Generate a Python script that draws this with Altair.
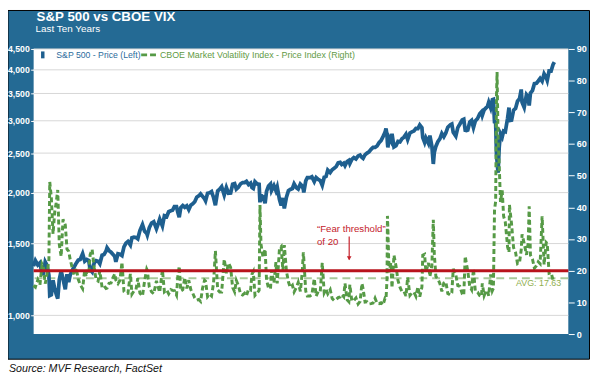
import altair as alt
import numpy as np
import pandas as pd

# ---------------- data ----------------
dates = [
    "2011-04-15", "2011-04-29", "2011-05-16", "2011-05-31", "2011-06-15", "2011-06-24", "2011-07-07", "2011-07-20",
    "2011-08-02", "2011-08-08", "2011-08-19", "2011-08-31", "2011-09-12", "2011-09-22", "2011-10-03", "2011-10-14",
    "2011-10-27", "2011-11-09", "2011-11-25", "2011-12-07", "2011-12-19", "2011-12-30",
    "2012-01-13", "2012-01-27", "2012-02-10", "2012-02-24", "2012-03-09", "2012-03-26", "2012-04-10", "2012-04-24",
    "2012-05-08", "2012-05-18", "2012-06-01", "2012-06-15", "2012-06-29", "2012-07-13", "2012-07-25", "2012-08-10",
    "2012-08-24", "2012-09-07", "2012-09-14", "2012-09-28", "2012-10-12", "2012-10-26", "2012-11-07", "2012-11-15",
    "2012-11-30", "2012-12-14", "2012-12-28",
    "2013-01-11", "2013-01-25", "2013-02-08", "2013-02-25", "2013-03-08", "2013-03-22", "2013-04-05", "2013-04-18",
    "2013-05-03", "2013-05-21", "2013-06-05", "2013-06-20", "2013-06-24", "2013-07-08", "2013-07-24", "2013-08-08",
    "2013-08-27", "2013-09-10", "2013-09-19", "2013-10-08", "2013-10-22", "2013-11-07", "2013-11-21", "2013-12-06",
    "2013-12-18", "2013-12-31",
    "2014-01-15", "2014-01-24", "2014-02-03", "2014-02-14", "2014-02-28", "2014-03-14", "2014-03-28", "2014-04-11",
    "2014-04-25", "2014-05-09", "2014-05-23", "2014-06-06", "2014-06-20", "2014-07-03", "2014-07-17", "2014-07-31",
    "2014-08-07", "2014-08-21", "2014-09-04", "2014-09-18", "2014-10-02", "2014-10-15", "2014-10-31", "2014-11-14",
    "2014-11-28", "2014-12-16", "2014-12-31",
    "2015-01-15", "2015-01-30", "2015-02-13", "2015-02-27", "2015-03-11", "2015-03-25", "2015-04-10", "2015-04-24",
    "2015-05-08", "2015-05-21", "2015-06-05", "2015-06-19", "2015-06-29", "2015-07-08", "2015-07-20", "2015-08-05",
    "2015-08-18", "2015-08-24", "2015-08-31", "2015-09-14", "2015-09-29", "2015-10-09", "2015-10-23", "2015-11-06",
    "2015-11-13", "2015-11-30", "2015-12-14", "2015-12-23",
    "2016-01-08", "2016-01-20", "2016-02-01", "2016-02-11", "2016-02-26", "2016-03-11", "2016-03-24", "2016-04-08",
    "2016-04-20", "2016-05-06", "2016-05-19", "2016-06-03", "2016-06-16", "2016-06-24", "2016-06-27", "2016-07-11",
    "2016-07-22", "2016-08-10", "2016-08-23", "2016-09-09", "2016-09-22", "2016-10-07", "2016-10-21", "2016-11-04",
    "2016-11-18", "2016-12-01", "2016-12-13", "2016-12-30",
    "2017-01-13", "2017-01-27", "2017-02-10", "2017-02-24", "2017-03-10", "2017-03-21", "2017-04-04", "2017-04-13",
    "2017-04-28", "2017-05-10", "2017-05-17", "2017-05-31", "2017-06-14", "2017-06-29", "2017-07-14", "2017-07-28",
    "2017-08-10", "2017-08-18", "2017-09-01", "2017-09-15", "2017-09-29", "2017-10-13", "2017-10-27", "2017-11-10",
    "2017-11-24", "2017-12-08", "2017-12-22",
    "2018-01-05", "2018-01-19", "2018-01-26", "2018-02-02", "2018-02-05", "2018-02-08", "2018-02-16", "2018-03-01",
    "2018-03-09", "2018-03-23", "2018-04-06", "2018-04-20", "2018-05-04", "2018-05-18", "2018-06-01", "2018-06-15",
    "2018-06-27", "2018-07-13", "2018-07-27", "2018-08-10", "2018-08-24", "2018-09-07", "2018-09-20", "2018-10-05",
    "2018-10-11", "2018-10-24", "2018-11-02", "2018-11-20", "2018-11-30", "2018-12-14", "2018-12-24", "2018-12-31",
    "2019-01-11", "2019-01-25", "2019-02-08", "2019-02-22", "2019-03-08", "2019-03-22", "2019-04-05", "2019-04-23",
    "2019-05-03", "2019-05-13", "2019-05-31", "2019-06-14", "2019-06-28", "2019-07-15", "2019-07-26", "2019-08-05",
    "2019-08-14", "2019-08-23", "2019-09-06", "2019-09-19", "2019-10-02", "2019-10-15", "2019-10-31", "2019-11-15",
    "2019-11-27", "2019-12-03", "2019-12-16", "2019-12-31",
    "2020-01-08", "2020-01-17", "2020-01-31", "2020-02-12", "2020-02-19", "2020-02-27", "2020-03-06", "2020-03-12",
    "2020-03-16", "2020-03-23", "2020-03-31", "2020-04-09", "2020-04-21", "2020-05-01", "2020-05-13", "2020-05-29",
    "2020-06-08", "2020-06-11", "2020-06-26", "2020-07-10", "2020-07-24", "2020-08-07", "2020-08-21", "2020-09-02",
    "2020-09-08", "2020-09-23", "2020-10-09", "2020-10-21", "2020-10-28", "2020-11-06", "2020-11-20", "2020-12-04",
    "2020-12-18", "2020-12-31",
    "2021-01-13", "2021-01-27", "2021-02-10", "2021-02-25", "2021-03-04", "2021-03-17", "2021-03-31", "2021-04-14",
    "2021-04-23",
]

spx = [
    1320, 1363, 1329, 1345, 1265, 1268, 1353, 1326, 1254, 1119, 1124, 1219, 1162, 1129, 1099, 1224,
    1285, 1229, 1158, 1261, 1206, 1258,
    1289, 1316, 1343, 1366, 1371, 1417, 1358, 1371, 1363, 1295, 1278, 1343, 1362, 1357, 1338, 1405,
    1411, 1438, 1465, 1441, 1429, 1411, 1395, 1353, 1416, 1413, 1402,
    1472, 1503, 1518, 1488, 1551, 1556, 1553, 1541, 1614, 1669, 1608, 1588, 1573, 1641, 1685, 1697,
    1630, 1683, 1722, 1656, 1755, 1747, 1795, 1805, 1810, 1848,
    1848, 1790, 1741, 1838, 1859, 1841, 1857, 1816, 1863, 1878, 1900, 1949, 1963, 1985, 1958, 1931,
    1910, 1993, 1998, 2012, 1946, 1862, 2018, 2039, 2068, 1973, 2059,
    1993, 1995, 2097, 2105, 2041, 2062, 2102, 2117, 2116, 2131, 2092, 2110, 2057, 2047, 2128, 2100,
    2096, 1893, 1972, 1953, 1884, 2014, 2075, 2099, 2023, 2080, 2021, 2064,
    1922, 1859, 1940, 1829, 1948, 2022, 2036, 2047, 2102, 2057, 2040, 2099, 2077, 2037, 2001, 2137,
    2175, 2175, 2186, 2128, 2177, 2154, 2141, 2085, 2182, 2191, 2271, 2239,
    2275, 2295, 2316, 2367, 2373, 2344, 2361, 2329, 2384, 2399, 2357, 2412, 2437, 2419, 2459, 2472,
    2438, 2426, 2477, 2500, 2519, 2553, 2581, 2582, 2602, 2651, 2683,
    2743, 2810, 2873, 2762, 2649, 2581, 2732, 2678, 2786, 2588, 2605, 2670, 2663, 2712, 2735, 2780,
    2699, 2801, 2819, 2833, 2874, 2872, 2931, 2886, 2729, 2656, 2723, 2641, 2760, 2600, 2351, 2507,
    2596, 2665, 2708, 2793, 2743, 2801, 2893, 2934, 2946, 2812, 2752, 2887, 2942, 3014, 3026, 2844,
    2840, 2847, 2979, 3006, 2888, 2996, 3038, 3120, 3154, 3093, 3191, 3231,
    3253, 3330, 3226, 3379, 3386, 2979, 2972, 2481, 2386, 2237, 2585, 2790, 2737, 2831, 2820, 3044,
    3232, 3002, 3009, 3185, 3216, 3351, 3397, 3580, 3332, 3237, 3477, 3435, 3271, 3509, 3558, 3699,
    3709, 3756,
    3810, 3750, 3910, 3829, 3768, 3975, 3973, 4124, 4180,
]

vix = [
    15.3, 14.8, 17.1, 15.5, 22.0, 21.1, 15.9, 19.0, 23.4, 48.0, 43.1, 31.6, 38.6, 41.4, 45.5, 28.2,
    24.5, 36.2, 34.5, 26.8, 26.1, 23.4,
    20.9, 18.5, 20.8, 17.3, 15.6, 14.3, 20.4, 18.8, 19.1, 25.1, 26.7, 21.1, 17.1, 16.7, 20.0, 14.7,
    15.2, 14.4, 14.5, 16.0, 16.1, 17.8, 19.0, 17.0, 15.9, 17.0, 22.7,
    13.4, 12.9, 12.9, 19.0, 12.6, 13.6, 13.9, 17.6, 12.9, 12.0, 16.8, 20.5, 20.1, 14.8, 13.3, 12.7,
    16.8, 14.5, 13.2, 20.3, 13.3, 13.9, 12.7, 14.0, 13.8, 13.7,
    12.3, 18.1, 21.4, 13.6, 14.0, 17.8, 14.4, 17.0, 14.1, 12.9, 11.4, 10.7, 10.9, 10.3, 14.5, 17.0,
    16.7, 11.8, 12.6, 12.0, 16.1, 26.3, 14.0, 13.3, 13.3, 23.6, 19.2,
    22.4, 21.0, 14.7, 13.3, 16.9, 15.4, 12.6, 12.3, 12.9, 12.1, 14.2, 13.9, 18.9, 19.7, 12.2, 13.0,
    13.8, 40.7, 28.4, 24.3, 26.8, 17.1, 14.5, 14.3, 20.1, 16.1, 22.7, 16.0,
    27.0, 27.6, 20.0, 28.1, 19.8, 16.5, 14.7, 15.4, 13.3, 14.7, 16.3, 13.5, 19.4, 25.8, 23.9, 13.5,
    12.0, 12.0, 12.4, 17.5, 12.0, 13.5, 13.3, 22.5, 13.0, 14.1, 12.7, 14.0,
    11.2, 10.6, 10.9, 11.5, 11.7, 12.5, 11.8, 16.0, 10.8, 10.2, 15.6, 10.4, 10.6, 11.4, 9.5, 10.3,
    16.0, 14.3, 10.1, 10.2, 9.5, 9.6, 9.8, 11.3, 9.7, 9.6, 9.9,
    9.2, 11.3, 11.1, 17.3, 37.3, 33.5, 19.5, 22.5, 14.6, 24.9, 21.5, 16.9, 14.8, 13.4, 13.5, 12.0,
    17.9, 12.2, 13.0, 13.2, 11.9, 14.9, 11.8, 14.8, 24.9, 25.2, 19.5, 22.5, 18.1, 21.6, 36.1, 25.4,
    18.2, 17.4, 16.0, 13.5, 16.1, 16.5, 12.8, 12.3, 13.0, 20.6, 18.7, 15.3, 15.1, 12.7, 12.2, 24.6,
    22.1, 19.9, 15.0, 14.0, 20.6, 13.5, 13.2, 12.1, 11.8, 16.0, 12.1, 13.8,
    13.5, 12.1, 18.8, 13.7, 14.4, 39.2, 41.9, 75.5, 82.7, 61.6, 53.5, 41.7, 45.4, 37.2, 35.3, 27.5,
    25.8, 40.8, 34.7, 27.3, 25.8, 22.2, 22.5, 26.6, 31.5, 28.6, 25.0, 28.7, 40.3, 24.9, 23.7, 20.8,
    21.6, 22.8,
    22.2, 37.2, 21.9, 28.9, 28.6, 19.2, 19.4, 17.0, 17.3,
]

left_ticks = [1000, 1500, 2000, 2500, 3000, 3500, 4000, 4500]
right_ticks = [0, 10, 20, 30, 40, 50, 60, 70, 80, 90]
year_ticks = [2012, 2013, 2014, 2015, 2016, 2017, 2018, 2019, 2020, 2021]
fear_level = 20
vix_avg = 17.63

# ---------------- table ----------------
dt = pd.to_datetime(dates)
t = dt.year + (dt.dayofyear - 1) / np.where(dt.is_leap_year, 366, 365)
df = pd.DataFrame({"t": np.asarray(t, dtype=float), "spx": spx, "vix": vix})
one = pd.DataFrame({"k": [0]})

# ---------------- styles ----------------
FONT = "Liberation Sans"
PANEL = "#246a94"
BLUE_LINE = "#1e5f8f"
GREEN = "#569a46"
RED = "#b8131c"
ANNO_RED = "#c4212b"
W, H = 542, 289

xs = alt.Scale(domain=[2011.29, 2021.575], nice=False, zero=False)
yl = alt.Scale(type="log", domain=[900, 4500], nice=False)
yr = alt.Scale(domain=[0, 90], nice=False, zero=True)

x_axis = alt.Axis(
    orient="bottom", values=year_ticks, labelExpr="\"'\" + (datum.value - 2001)",
    labelOffset=-26, tickSize=5, tickColor="white", labelColor="white", labelFont=FONT,
    labelFontSize=9, labelFontWeight="bold", labelPadding=5, labelFlush=False,
    labelOverlap=False, domain=False, grid=False, zindex=1,
)
left_axis = alt.Axis(
    orient="left", values=left_ticks, format=",", tickSize=3, tickColor="white",
    labelColor="white", labelFont=FONT, labelFontSize=8.8, labelFontWeight="bold",
    labelPadding=1.5, domain=False, grid=False, zindex=1,
)
right_axis = alt.Axis(
    orient="right", values=right_ticks, tickSize=6, tickColor="white",
    labelColor="white", labelFont=FONT, labelFontSize=9.2, labelFontWeight="bold",
    labelPadding=2, domain=False, grid=False, zindex=1,
)


def txt(s, x, y, size, color, weight="normal", style="normal", baseline="alphabetic"):
    return alt.Chart(one).mark_text(
        text=s, font=FONT, fontSize=size, color=color, fontWeight=weight,
        fontStyle=style, align="left", baseline=baseline,
    ).encode(x=alt.value(x), y=alt.value(y))


panel = alt.Chart(one).mark_rect(fill=PANEL, stroke="black", strokeWidth=1).encode(
    x=alt.value(-26), x2=alt.value(563.5), y=alt.value(-39), y2=alt.value(314.5)
)
plot_bg = alt.Chart(one).mark_rect(fill="white").encode(
    x=alt.value(0), x2=alt.value(W), y=alt.value(0), y2=alt.value(H)
)
grid = alt.Chart(pd.DataFrame({"v": left_ticks})).mark_rule(color="#d6d6d6", strokeWidth=1).encode(
    y=alt.Y("v:Q", scale=yl, axis=None)
)
avg_rule = alt.Chart(pd.DataFrame({"v": [vix_avg]})).mark_rule(
    color="#a9c99b", strokeWidth=2, strokeDash=[8, 5]
).encode(y=alt.Y("v:Q", scale=yr, axis=None))

spx_line = alt.Chart(df).mark_line(color=BLUE_LINE, strokeWidth=3.8).encode(
    x=alt.X("t:Q", scale=xs, axis=x_axis, title=None),
    y=alt.Y("spx:Q", scale=yl, axis=left_axis, title=None),
)
vix_line = alt.Chart(df).mark_line(color=GREEN, strokeWidth=3, strokeDash=[5, 3]).encode(
    x=alt.X("t:Q", scale=xs, axis=None),
    y=alt.Y("vix:Q", scale=yr, axis=right_axis, title=None),
)
fear_rule = alt.Chart(pd.DataFrame({"v": [fear_level]})).mark_rule(color=RED, strokeWidth=3).encode(
    y=alt.Y("v:Q", scale=yr, axis=None)
)

avg_label = alt.Chart(pd.DataFrame({"t": [2020.57], "v": [16.1], "s": ["AVG: 17.63"]})).mark_text(
    font=FONT, fontSize=9, color="#8fae4f", align="left", baseline="middle"
).encode(
    x=alt.X("t:Q", scale=xs, axis=None), y=alt.Y("v:Q", scale=yr, axis=None), text="s:N"
)

anno_text = alt.Chart(pd.DataFrame({
    "t": [2016.74, 2016.74], "v": [33.1, 29.0], "s": ["\u201cFear threshold\u201d", "of 20"],
})).mark_text(font=FONT, fontSize=9.8, color=ANNO_RED, align="left", baseline="middle").encode(
    x=alt.X("t:Q", scale=xs, axis=None), y=alt.Y("v:Q", scale=yr, axis=None), text="s:N"
)
anno_arrow = alt.Chart(pd.DataFrame({"t": [2017.36], "v": [30.8], "v2": [23.5]})).mark_rule(
    color=ANNO_RED, strokeWidth=1.2
).encode(
    x=alt.X("t:Q", scale=xs, axis=None), y=alt.Y("v:Q", scale=yr, axis=None), y2="v2:Q"
)
anno_head = alt.Chart(pd.DataFrame({"t": [2017.36], "v": [23.9]})).mark_point(
    shape="triangle-down", filled=True, size=22, color=ANNO_RED, opacity=1
).encode(x=alt.X("t:Q", scale=xs, axis=None), y=alt.Y("v:Q", scale=yr, axis=None))

leg_sym1 = alt.Chart(one).mark_rect(fill=BLUE_LINE).encode(
    x=alt.value(7.5), x2=alt.value(11), y=alt.value(2.5), y2=alt.value(9.5)
)
leg_sym2 = alt.Chart(one).mark_rule(color=GREEN, strokeWidth=2.6, strokeDash=[6, 3]).encode(
    x=alt.value(109), x2=alt.value(124), y=alt.value(6)
)
leg_t1 = txt("S&P 500 - Price (Left)", 23, 6, 8.8, "#2b6b9c", baseline="middle")
leg_t2 = txt("CBOE Market Volatility Index - Price Index (Right)", 128, 6, 9.0, "#5f9a45", baseline="middle")

title = txt("S&P 500 vs CBOE VIX", 3, -28, 13.5, "white", weight="bold")
subtitle = txt("Last Ten Years", 2, -17, 10, "white")
source = txt("Source: MVF Research, FactSet", -25, 327.5, 10.8, "#111111", style="italic")

chart = alt.layer(
    panel, plot_bg, grid, avg_rule, spx_line, vix_line, fear_rule, avg_label,
    anno_text, anno_arrow, anno_head, leg_sym1, leg_sym2, leg_t1, leg_t2,
    title, subtitle, source,
).resolve_scale(y="independent").properties(
    width=W, height=H,
    padding={"left": 26, "top": 39, "right": 22, "bottom": 40},
    autosize=alt.AutoSizeParams(type="none"),
    background="white",
).configure_view(stroke=None)

chart.save("out.html", embed_options={"renderer": "svg", "actions": False})
